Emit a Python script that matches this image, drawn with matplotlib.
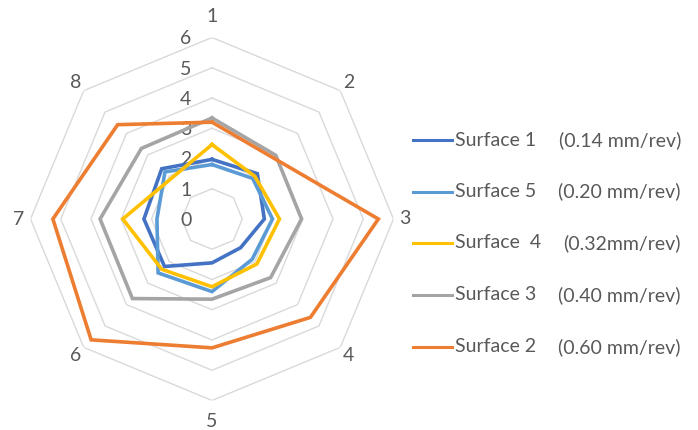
import numpy as np
import matplotlib
matplotlib.use('Agg')
import matplotlib.pyplot as plt
from matplotlib.lines import Line2D

# axis categories (clockwise from top)
categories = ['1', '2', '3', '4', '5', '6', '7', '8']
ring_levels = [0, 1, 2, 3, 4, 5, 6]

# series, in the order Excel draws them
series_names = ['Surface 1', 'Surface 5', 'Surface  4', 'Surface 3', 'Surface 2']
feed_labels = ['(0.14 mm/rev)', '(0.20 mm/rev)', '(0.32mm/rev)', '(0.40 mm/rev)', '(0.60 mm/rev)']
surface1 = [1.97, 2.12, 1.73, 1.34, 1.45, 2.22, 2.25, 2.35]
surface5 = [1.80, 1.90, 2.00, 1.88, 2.40, 2.52, 1.82, 2.20]
surface4 = [2.46, 2.00, 2.23, 2.10, 2.24, 2.35, 2.95, 1.90]
surface3 = [3.34, 2.98, 2.96, 2.74, 2.65, 3.72, 3.70, 3.30]
surface2 = [3.20, 2.86, 5.50, 4.60, 4.26, 5.65, 5.26, 4.41]
series_values = [surface1, surface5, surface4, surface3, surface2]
colors = ['#4472C4', '#5B9BD5', '#FFC000', '#A5A5A5', '#ED7D31']

text_color = '#595959'
grid_color = '#D9D9D9'
font = ['Lato', 'DejaVu Sans']

fig = plt.figure(figsize=(6.98, 4.30), dpi=100)
W, H = 698, 430
cx, cy, rad = 212, 219, 181.5
ax = fig.add_axes([(cx - rad) / W, (H - cy - rad) / H, 2 * rad / W, 2 * rad / H],
                  projection='polar')
ax.set_theta_zero_location('N')
ax.set_theta_direction(-1)
ax.set_ylim(0, 6)
ax.grid(False)
ax.spines['polar'].set_visible(False)
ax.set_xticks([])
ax.set_yticks([])
ax.patch.set_alpha(0)

n = len(categories)
angles = np.linspace(0, 2 * np.pi, n, endpoint=False)
closed = np.append(angles, angles[0])

# octagon grid rings
for r in ring_levels[1:]:
    ax.plot(closed, [r] * (n + 1), color=grid_color, lw=1.0, zorder=1)

# radial value labels, left of axis 1
for r in ring_levels:
    ax.annotate(str(r), (0, r), xytext=(-19, -1), textcoords='offset points',
                ha='center', va='center', fontsize=14, color=text_color,
                family=font, zorder=2)

# category labels
for a, lab in zip(angles, categories):
    vertical = abs(np.cos(a)) > 0.99
    r_lab = 6.68 if vertical else 6.38
    ax.text(a, r_lab, lab, ha='center', va='center', fontsize=14,
            color=text_color, family=font)

# data series
for vals, col in zip(series_values, colors):
    ax.plot(closed, vals + vals[:1], color=col, lw=2.6, zorder=3,
            solid_joinstyle='miter')

# legend drawn by hand to keep the two text columns
leg_y = [140, 191.5, 243, 295, 347]
for y, name, feed, col in zip(leg_y, series_names, feed_labels, colors):
    yf = 1 - y / H
    fig.add_artist(Line2D([413 / W, 452 / W], [yf, yf], color=col, lw=2.2,
                          transform=fig.transFigure))
    fig.text(455 / W, yf, name, ha='left', va='center', fontsize=14,
             color=text_color, family=font)
    fig.text(681 / W, yf, feed, ha='right', va='center', fontsize=14,
             color=text_color, family=font)

fig.savefig('out.png', dpi=100)
